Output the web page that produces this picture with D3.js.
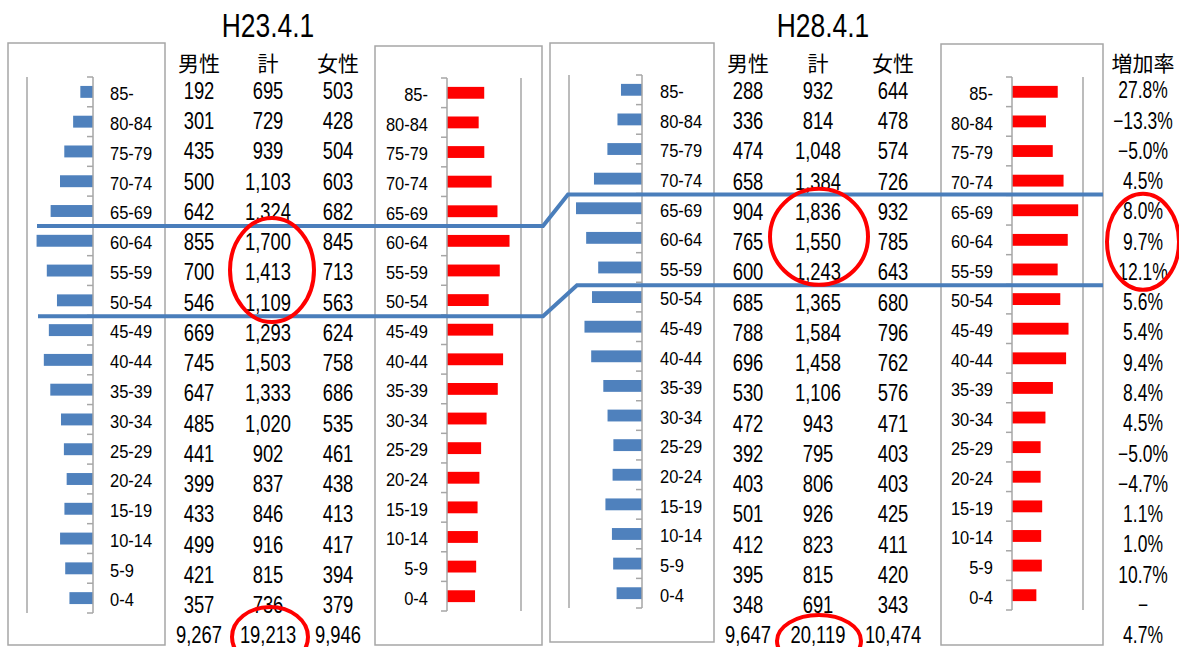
<!DOCTYPE html>
<html><head><meta charset="utf-8">
<script src="https://cdn.jsdelivr.net/npm/d3@7"></script>
<style>
html,body{margin:0;padding:0;background:#fff;}
svg{display:block;}
</style></head>
<body>
<svg id="chart" width="1179" height="647"></svg>
<script>
// ---------- DATA ----------
const ages = ["85-","80-84","75-79","70-74","65-69","60-64","55-59","50-54","45-49","40-44","35-39","30-34","25-29","20-24","15-19","10-14","5-9","0-4"];
const male23   = [192,301,435,500,642,855,700,546,669,745,647,485,441,399,433,499,421,357];
const total23  = [695,729,939,1103,1324,1700,1413,1109,1293,1503,1333,1020,902,837,846,916,815,736];
const female23 = [503,428,504,603,682,845,713,563,624,758,686,535,461,438,413,417,394,379];
const sums23   = [9267,19213,9946];
const male28   = [288,336,474,658,904,765,600,685,788,696,530,472,392,403,501,412,395,348];
const total28  = [932,814,1048,1384,1836,1550,1243,1365,1584,1458,1106,943,795,806,926,823,815,691];
const female28 = [644,478,574,726,932,785,643,680,796,762,576,471,403,403,425,411,420,343];
const sums28   = [9647,20119,10474];
const rates    = ["27.8%","\u221213.3%","\u22125.0%","4.5%","8.0%","9.7%","12.1%","5.6%","5.4%","9.4%","8.4%","4.5%","\u22125.0%","\u22124.7%","1.1%","1.0%","10.7%","\u2212"];
const rateTotal = "4.7%";
const titles = ["H23.4.1","H28.4.1"];
const headers = ["男性","計","女性"];
const rateHeader = "増加率";
const axisMax = 1000;

// ---------- LAYOUT ----------
const svg = d3.select("#chart");
const LAT_FONT = "'Liberation Sans',Arial,sans-serif";
const CJK_FONT = "'Noto Sans CJK JP','Noto Sans CJK SC',sans-serif";
const fmt = d3.format(",");
const GRAY = "#a6a6a6";

// text drawn with a horizontal squeeze to mimic the narrow font of the original
function label(g, x, y, str, size, squeeze, anchor, family) {
  return g.append("text")
    .attr("transform", `translate(${x},${y}) scale(${squeeze},1)`)
    .attr("text-anchor", anchor || "middle")
    .attr("dominant-baseline", "central")
    .style("font-family", family || LAT_FONT)
    .style("font-size", size + "px")
    .attr("fill", "#000")
    .text(str);
}

const panels = [
  {values: male23,   side:"m", box:[8,43,165,645],   axisX:93,   gridX:27,   yr:[77,613], labelX:110, color:"#4f81bd"},
  {values: female23, side:"f", box:[375,46,542,645], axisX:447,  gridX:521,  yr:[78,611], labelX:428, color:"#ff0000"},
  {values: male28,   side:"m", box:[550,43,714,642], axisX:642,  gridX:569,  yr:[75,608], labelX:660, color:"#4f81bd"},
  {values: female28, side:"f", box:[941,44,1103,645],axisX:1012, gridX:1083, yr:[77,610], labelX:993, color:"#ff0000"}
];

panels.forEach(p => {
  const g = svg.append("g");
  const [x0,y0,x1,y1] = p.box;
  g.append("rect").attr("x",x0).attr("y",y0).attr("width",x1-x0).attr("height",y1-y0)
    .attr("fill","#fff").attr("stroke",GRAY).attr("stroke-width",1.5);
  const y = d3.scaleBand().domain(ages).range(p.yr).paddingInner(0.6).paddingOuter(0.3);
  const yb = d3.scaleBand().domain(ages).range(p.yr);
  const x = d3.scaleLinear().domain([0,axisMax]).range([p.axisX,p.gridX]);
  g.append("line").attr("x1",x(axisMax)).attr("x2",x(axisMax)).attr("y1",p.yr[0]).attr("y2",p.yr[1])
    .attr("stroke",GRAY).attr("stroke-width",1.5);
  g.selectAll("rect.bar").data(p.values).join("rect").attr("class","bar")
    .attr("x",d => Math.min(x(0),x(d)))
    .attr("width",d => Math.abs(x(d)-x(0)))
    .attr("y",(d,i) => yb(ages[i]) + yb.bandwidth()/2 - y.bandwidth()/2)
    .attr("height",y.bandwidth())
    .attr("fill",p.color);
  g.append("line").attr("x1",p.axisX).attr("x2",p.axisX).attr("y1",p.yr[0]).attr("y2",p.yr[1])
    .attr("stroke",GRAY).attr("stroke-width",1.5);
  const bounds = d3.range(ages.length+1).map(i => p.yr[0] + i*yb.step());
  g.selectAll("line.tick").data(bounds).join("line").attr("class","tick")
    .attr("x1",p.axisX-6).attr("x2",p.axisX).attr("y1",d=>d).attr("y2",d=>d)
    .attr("stroke",GRAY).attr("stroke-width",1.5);
  ages.forEach(a => label(g, p.labelX, yb(a)+yb.bandwidth()/2+2, a, 18.5, 0.89, p.side==="m"?"start":"end"));
});

// ---------- TABLES ----------
const rowY = d3.scalePoint().domain(ages).range([90.5,605]);
const totalY = 635;
const tables = [
  {cols:[199,268,338], data:[male23,total23,female23], sums:sums23, title:titles[0], titleX:268},
  {cols:[748,818,893], data:[male28,total28,female28], sums:sums28, title:titles[1], titleX:823}
];
tables.forEach(t => {
  const g = svg.append("g");
  label(g, t.titleX, 25, t.title, 33, 0.8);
  headers.forEach((h,j) => label(g, t.cols[j], 62, h, 21, 1, "middle", CJK_FONT));
  t.data.forEach((arr,j) => arr.forEach((v,i) => label(g, t.cols[j], rowY(ages[i]), fmt(v), 23, 0.8)));
  t.sums.forEach((s,j) => label(g, t.cols[j], totalY, fmt(s), 23, 0.8));
});
const rateX = 1143;
const rg = svg.append("g");
label(rg, rateX, 62, rateHeader, 21, 1, "middle", CJK_FONT);
rates.forEach((r,i) => label(rg, rateX, rowY(ages[i]), r, 23, 0.76));
label(rg, rateX, totalY, rateTotal, 23, 0.76);

// ---------- ANNOTATIONS ----------
const band23 = d3.scaleBand().domain(ages).range(panels[0].yr);
const band28 = d3.scaleBand().domain(ages).range(panels[2].yr);
const bandTop = (b,a) => b(a);
const bandBottom = (b,a) => b(a)+b.bandwidth();
const lineGen = d3.line();
const blue = "#4a7ebb";
const upper = [[37, bandTop(band23,"60-64")],[543, bandTop(band23,"60-64")],[568, bandTop(band28,"65-69")+1],[1103, bandTop(band28,"65-69")+1]];
const lower = [[38, bandBottom(band23,"50-54")+1],[543, bandBottom(band23,"50-54")+1],[577, bandBottom(band28,"55-59")+3],[1103, bandBottom(band28,"55-59")+3]];
[upper,lower].forEach(pts => svg.append("path").attr("d",lineGen(pts)).attr("fill","none")
  .attr("stroke",blue).attr("stroke-width",4));

const ellipses = [
  {cx: tables[0].cols[1]+4, cy: rowY("55-59")-2, rx:42, ry:52},
  {cx: tables[0].cols[1]+2, cy: totalY+2, rx:38, ry:30},
  {cx: tables[1].cols[1]+1, cy: rowY("60-64")-5, rx:49, ry:48},
  {cx: tables[1].cols[1]+1, cy: totalY+6, rx:42, ry:26},
  {cx: rateX, cy: rowY("60-64"), rx:36, ry:48}
];
svg.selectAll("ellipse").data(ellipses).join("ellipse")
  .attr("cx",d=>d.cx).attr("cy",d=>d.cy).attr("rx",d=>d.rx).attr("ry",d=>d.ry)
  .attr("fill","none").attr("stroke","#f00").attr("stroke-width",4);
</script>
</body></html>
